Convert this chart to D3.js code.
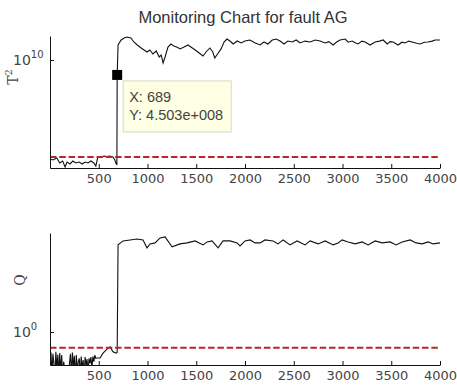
<!DOCTYPE html>
<html>
<head>
<meta charset="utf-8">
<script src="https://cdn.jsdelivr.net/npm/d3@7"></script>
<style>
  body { margin: 0; background: #fff; }
  svg { display: block; }
</style>
</head>
<body>
<div id="chart"></div>
<script>
// sample index (x) and log10 of the statistic
const t2X = [0, 30, 70, 100, 130, 155, 175, 205, 235, 265, 300, 330, 360, 390, 420, 450, 470, 490, 520, 555, 585, 615, 645, 665, 680, 686,
  689, 698, 730, 760, 790, 830, 860, 895, 935, 965, 995, 1025, 1055, 1090, 1120, 1140, 1160, 1180, 1210, 1240, 1270, 1300, 1335,
  1375, 1415, 1445, 1490, 1530, 1570, 1600, 1640, 1670, 1690, 1725, 1755, 1785, 1815, 1845, 1880, 1920, 1960, 2000, 2050, 2105,
  2155, 2195, 2235, 2280, 2320, 2360, 2400, 2440, 2485, 2525, 2565, 2615, 2668, 2720, 2770, 2822, 2860, 2904, 2940, 2975, 3027,
  3060, 3099, 3130, 3160, 3200, 3232, 3283, 3335, 3380, 3417, 3458, 3490, 3519, 3570, 3610, 3642, 3680, 3714, 3760, 3796, 3840,
  3878, 3920, 3950, 4000];
const t2Log = [1.08, 0.99, 1.17, 0.72, 0.9, 0.36, 0.81, 0.63, 0.9, 0.72, 0.81, 0.63, 0.81, 0.72, 0.9, 0.72, 0.45, 1.26, 1.22, 1.35, 1.31, 1.35, 1.26, 0.99, 0.63, 0.6,
  8.653, 11.35, 11.8, 11.98, 12.07, 11.98, 11.62, 11.35, 11.08, 10.9, 10.72, 10.9, 10.54, 10.81, 10.27, 10.45, 9.73, 10.27, 11.17, 11.44, 11.26, 11.17, 11.0,
  11.17, 11.35, 11.17, 10.9, 10.63, 10.36, 10.72, 11.08, 10.72, 10.18, 10.63, 11.0, 11.62, 11.89, 11.71, 11.44, 11.71, 11.53, 11.71, 11.8, 11.53,
  11.35, 11.62, 11.44, 11.8, 11.89, 11.71, 11.44, 11.71, 11.62, 11.8, 11.53, 11.7, 11.62, 11.8, 11.71, 11.53, 11.65, 11.35, 11.62, 11.8, 11.89,
  11.6, 11.71, 11.55, 11.44, 11.7, 11.62, 11.35, 11.62, 11.7, 11.8, 11.44, 11.65, 11.62, 11.35, 11.6, 11.53, 11.7, 11.62, 11.5, 11.44, 11.6,
  11.62, 11.7, 11.8, 11.8];
const t2Limit = 1.26;

const qX = [0, 10, 20, 30, 40, 50, 60, 70, 80, 90, 100, 110, 120, 130, 140, 150, 160, 170, 180, 190,
  200, 210, 220, 230, 240, 250, 260, 270, 280, 290, 300, 310, 320, 330, 340, 350, 360, 370, 380, 390,
  400, 410, 420, 430, 440, 450, 460, 470, 480, 513, 544, 585, 616, 646, 677, 689,
  698, 749, 821, 893, 954, 995, 1026, 1077, 1129, 1180, 1252, 1334, 1406, 1488, 1570, 1611, 1662, 1724, 1775, 1847,
  1919, 1949, 2001, 2052, 2103, 2155, 2206, 2288, 2339, 2391, 2462, 2534, 2616, 2668, 2750, 2822, 2904, 2955, 2996,
  3057, 3129, 3201, 3263, 3335, 3406, 3488, 3550, 3612, 3694, 3755, 3817, 3878, 3930, 4000];
const qLog = [-1.2, -0.62, -1.3, -0.66, -0.95, -1.4, -0.6, -1.1, -0.68, -1.3, -0.64, -1.2, -0.7, -1.4, -0.9, -1.1, -1.3, -1.0, -1.35, -1.2,
  -0.95, -0.66, -1.3, -0.62, -1.1, -0.72, -1.4, -0.7, -1.2, -0.9, -0.8, -1.3, -0.74, -1.1, -0.85, -1.35, -0.76, -1.0, -0.82, -1.25,
  -0.8, -0.95, -0.76, -1.1, -0.74, -0.9, -0.7, -0.8, -0.79, -0.79, -0.64, -0.52, -0.45, -0.6, -0.64, -0.62,
  2.64, 2.76, 2.79, 2.82, 2.79, 2.55, 2.67, 2.7, 2.85, 2.88, 2.58, 2.67, 2.7, 2.76, 2.64, 2.73, 2.76, 2.55, 2.76, 2.76,
  2.7, 2.61, 2.76, 2.79, 2.7, 2.7, 2.79, 2.76, 2.67, 2.79, 2.64, 2.76, 2.64, 2.76, 2.67, 2.76, 2.64, 2.7, 2.79,
  2.73, 2.67, 2.73, 2.64, 2.76, 2.7, 2.73, 2.64, 2.73, 2.79, 2.7, 2.67, 2.73, 2.67, 2.7];
const qLimit = -0.48;

const xTicks = [500, 1000, 1500, 2000, 2500, 3000, 3500, 4000];
const tip = { x: 689, y: 4.503e8 };

const width = 457, height = 385;
const svg = d3.select('#chart').append('svg')
  .attr('width', width).attr('height', height)
  .style('background', '#fff');

const x = d3.scaleLinear().domain([0, 4000]).range([50, 440]);

// panel 1 and 2: log scales on the statistic
const yTop = d3.scaleLog().domain([Math.pow(10, 0.27), Math.pow(10, 12.16)]).range([168, 36]);
const yBot = d3.scaleLog().domain([0.1, 1000]).range([365, 233]);

svg.append('text')
  .attr('x', 243).attr('y', 23)
  .attr('text-anchor', 'middle')
  .style('font-family', 'Liberation Sans, Arial, sans-serif')
  .style('font-size', '16.5px')
  .attr('fill', '#333')
  .text('Monitoring Chart for fault AG');

function panel(id, y, xs, logs, limit, yTick, sup, label, labelSup, labelX, labelY) {
  const g = svg.append('g');
  const [bottom, top] = y.range();

  svg.append('clipPath').attr('id', id)
    .append('rect').attr('x', 50).attr('y', top - 2).attr('width', 391).attr('height', bottom - top + 2);

  const pts = xs.map((d, i) => [d, Math.pow(10, logs[i])]);
  const line = d3.line().x(d => x(d[0])).y(d => y(d[1]));

  g.append('path')
    .datum(pts)
    .attr('clip-path', `url(#${id})`)
    .attr('fill', 'none')
    .attr('stroke', '#111')
    .attr('stroke-width', 1.1)
    .attr('d', line);

  // control limit
  g.append('line')
    .attr('x1', x(0)).attr('x2', x(4000))
    .attr('y1', y(Math.pow(10, limit))).attr('y2', y(Math.pow(10, limit)))
    .attr('stroke', '#b8262b')
    .attr('stroke-width', 2)
    .attr('stroke-dasharray', '6.5,2.8');

  const xAxis = g.append('g')
    .attr('transform', `translate(0,${bottom})`)
    .call(d3.axisBottom(x).tickValues(xTicks).tickSizeInner(-4).tickSizeOuter(0).tickPadding(6).tickFormat(d3.format('d')));
  xAxis.selectAll('text')
    .style('font-family', 'DejaVu Sans, sans-serif')
    .style('font-size', '13px')
    .attr('fill', '#444');

  const yAxis = g.append('g')
    .attr('transform', 'translate(50,0)')
    .call(d3.axisLeft(y).tickValues([yTick]).tickSizeInner(-4).tickSizeOuter(0).tickFormat(() => ''));
  yAxis.selectAll('.tick text').each(function() {
    const t = d3.select(this)
      .attr('x', -37)
      .style('font-family', 'DejaVu Sans, sans-serif')
      .style('font-size', '14px')
      .attr('fill', '#444')
      .attr('text-anchor', 'start');
    t.append('tspan').text('10');
    t.append('tspan').attr('dy', '-0.65em').style('font-size', '10px').text(sup);
  });
  g.selectAll('.domain').attr('stroke', '#111');
  g.selectAll('.tick line').attr('stroke', '#111');

  const lab = svg.append('text')
    .attr('transform', `translate(${labelX},${labelY}) rotate(-90)`)
    .attr('text-anchor', 'middle')
    .style('font-family', 'DejaVu Serif, serif')
    .style('font-size', '14px')
    .attr('fill', '#444');
  lab.append('tspan').text(label);
  if (labelSup) lab.append('tspan').attr('dy', '-0.6em').style('font-size', '10px').text(labelSup);
}

panel('clipTop', yTop, t2X, t2Log, t2Limit, 1e10, '10', 'T', '2', 18, 77);
panel('clipBot', yBot, qX, qLog, qLimit, 1, '0', 'Q', null, 25, 280);

// data tip on the fault onset
const tx = x(tip.x), ty = yTop(tip.y);
svg.append('rect')
  .attr('x', tx - 5).attr('y', ty - 5).attr('width', 10).attr('height', 10)
  .attr('fill', '#000');
svg.append('rect')
  .attr('x', tx + 6).attr('y', ty + 6).attr('width', 108).attr('height', 51)
  .attr('fill', '#ffffe3').attr('stroke', '#d8d8c8').attr('stroke-width', 1);
const tipText = svg.append('text')
  .style('font-family', 'Liberation Sans, Arial, sans-serif')
  .style('font-size', '14.5px')
  .attr('fill', '#444');
tipText.append('tspan').attr('x', tx + 12).attr('y', ty + 27).text('X: ' + tip.x);
tipText.append('tspan').attr('x', tx + 12).attr('y', ty + 45).text('Y: 4.503e+008');
</script>
</body>
</html>
